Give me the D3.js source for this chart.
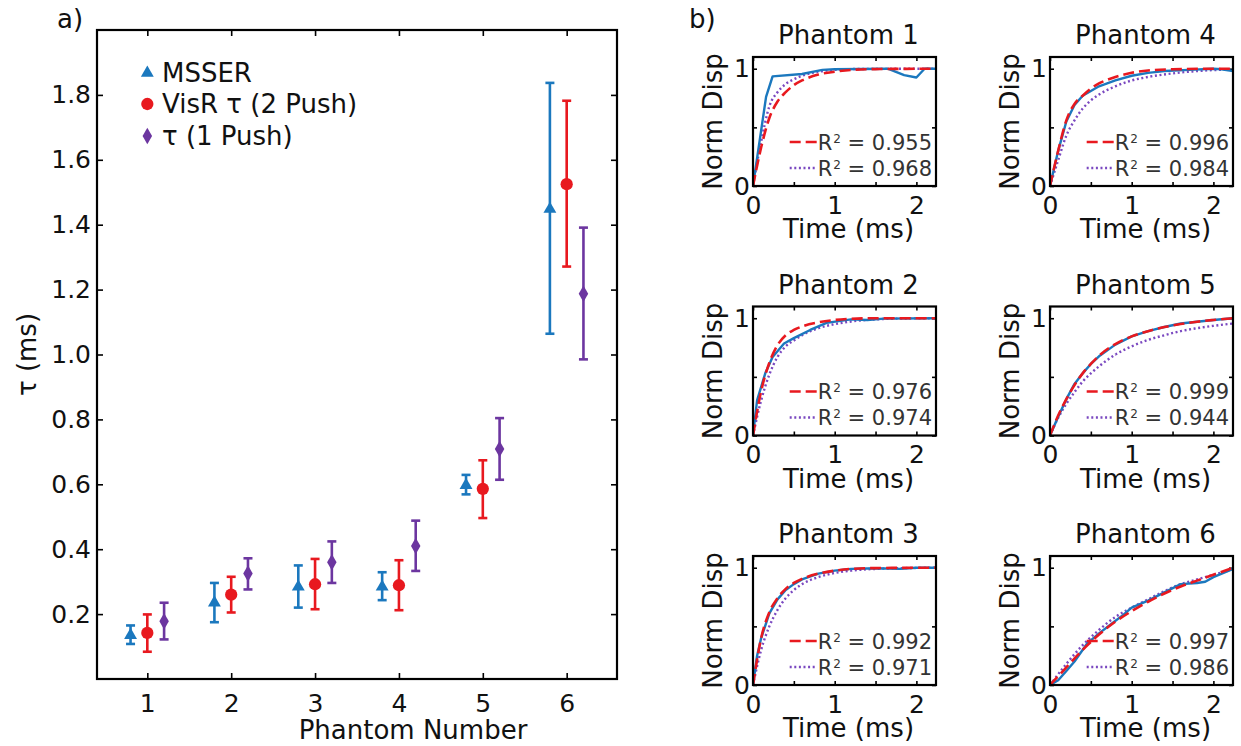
<!DOCTYPE html>
<html>
<head>
<meta charset="utf-8">
<script src="https://cdn.jsdelivr.net/npm/d3@7"></script>
<style>
  html, body { margin: 0; padding: 0; background: #fff; }
  svg text { font-family: "DejaVu Sans", Verdana, sans-serif; }
</style>
</head>
<body>
<svg id="chart" width="1241" height="746"></svg>
<script>
// ---------------- DATA: panel a ----------------
const phantomNumbers = [1, 2, 3, 4, 5, 6];
const xTickValues = [1, 2, 3, 4, 5, 6];
const yTickValues = [0.2, 0.4, 0.6, 0.8, 1.0, 1.2, 1.4, 1.6, 1.8];

const msserMean = [0.135, 0.235, 0.284, 0.284, 0.597, 1.448];
const msserLow  = [0.108, 0.175, 0.220, 0.243, 0.569, 1.064];
const msserHigh = [0.165, 0.296, 0.350, 0.329, 0.629, 1.837];

const visrMean = [0.142, 0.260, 0.292, 0.289, 0.586, 1.525];
const visrLow  = [0.084, 0.205, 0.215, 0.212, 0.496, 1.271];
const visrHigh = [0.199, 0.315, 0.370, 0.366, 0.674, 1.782];

const onePushMean = [0.178, 0.325, 0.360, 0.410, 0.709, 1.187];
const onePushLow  = [0.122, 0.276, 0.296, 0.333, 0.614, 0.985];
const onePushHigh = [0.235, 0.372, 0.424, 0.488, 0.804, 1.391];

const seriesNames = ["MSSER", "VisR \u03c4 (2 Push)", "\u03c4 (1 Push)"];

// ---------------- DATA: panel b ----------------
const timeTicks = [0, 0.5, 1, 1.5, 2];
const dispTicks = [0, 0.5, 1];
const phantomTitles = ["Phantom 1", "Phantom 2", "Phantom 3", "Phantom 4", "Phantom 5", "Phantom 6"];
const visrR2 =    ["0.955", "0.976", "0.992", "0.996", "0.999", "0.997"];
const onePushR2 = ["0.968", "0.974", "0.971", "0.984", "0.944", "0.986"];

// [time (ms), normalized displacement]
const p1Measured = [[0,0],[0.08,0.38],[0.16,0.76],[0.24,0.935],[0.6,0.955],[0.85,0.99],[1.0,0.995],[1.65,1.0],[1.85,0.945],[2.0,0.925],[2.1,1.0],[2.24,1.0]];
const p1VisR     = [[0,0],[0.1,0.33],[0.2,0.58],[0.3,0.72],[0.4,0.8],[0.5,0.86],[0.6,0.9],[0.8,0.95],[1.0,0.975],[1.2,0.99],[1.5,0.997],[2.24,1.0]];
const p1OnePush  = [[0,0],[0.1,0.38],[0.2,0.68],[0.3,0.8],[0.4,0.87],[0.5,0.91],[0.6,0.94],[0.8,0.975],[1.0,0.99],[1.3,0.998],[2.24,1.0]];

const p2Measured = [[0,0],[0.05,0.3],[0.15,0.53],[0.24,0.67],[0.38,0.785],[0.5,0.83],[0.7,0.9],[0.9,0.96],[1.2,0.99],[1.4,0.985],[1.6,0.997],[2.24,1.0]];
const p2VisR     = [[0,0],[0.1,0.38],[0.2,0.62],[0.3,0.77],[0.4,0.855],[0.5,0.9],[0.6,0.93],[0.8,0.965],[1.0,0.985],[1.2,0.995],[1.5,1.0],[2.24,1.0]];
const p2OnePush  = [[0,0],[0.1,0.3],[0.2,0.52],[0.3,0.67],[0.4,0.76],[0.5,0.81],[0.6,0.855],[0.8,0.915],[1.0,0.95],[1.2,0.972],[1.5,0.99],[1.8,0.997],[2.24,1.0]];

const p3Measured = [[0,0],[0.05,0.25],[0.1,0.4],[0.2,0.61],[0.3,0.73],[0.4,0.81],[0.5,0.86],[0.6,0.9],[0.8,0.95],[1.0,0.975],[1.2,0.99],[1.5,0.995],[1.8,0.99],[2.0,1.0],[2.24,1.0]];
const p3VisR     = [[0,0],[0.1,0.4],[0.2,0.62],[0.3,0.74],[0.4,0.82],[0.5,0.87],[0.6,0.905],[0.8,0.95],[1.0,0.975],[1.2,0.99],[1.5,0.997],[2.24,1.0]];
const p3OnePush  = [[0,0],[0.1,0.3],[0.2,0.5],[0.3,0.64],[0.4,0.74],[0.5,0.81],[0.6,0.86],[0.8,0.92],[1.0,0.955],[1.2,0.975],[1.5,0.99],[1.8,0.996],[2.24,1.0]];

const p4Measured = [[0,0],[0.1,0.3],[0.2,0.55],[0.3,0.69],[0.4,0.77],[0.5,0.81],[0.6,0.85],[0.7,0.875],[0.8,0.9],[1.0,0.94],[1.2,0.965],[1.4,0.98],[1.7,0.99],[2.0,1.0],[2.1,0.995],[2.24,0.98]];
const p4VisR     = [[0,0],[0.1,0.3],[0.2,0.56],[0.3,0.7],[0.4,0.77],[0.5,0.83],[0.6,0.875],[0.7,0.905],[0.8,0.93],[1.0,0.965],[1.2,0.985],[1.5,0.995],[2.0,1.0],[2.24,1.0]];
const p4OnePush  = [[0,0],[0.1,0.22],[0.2,0.43],[0.3,0.56],[0.4,0.66],[0.5,0.73],[0.6,0.78],[0.8,0.85],[1.0,0.9],[1.2,0.93],[1.5,0.96],[1.8,0.98],[2.24,0.995]];

const p5Measured = [[0,0],[0.1,0.16],[0.2,0.31],[0.3,0.44],[0.4,0.53],[0.5,0.61],[0.6,0.675],[0.8,0.775],[1.0,0.845],[1.2,0.89],[1.4,0.925],[1.6,0.955],[1.8,0.97],[2.0,0.985],[2.24,1.0]];
const p5VisR     = [[0,0],[0.1,0.17],[0.2,0.31],[0.3,0.43],[0.4,0.53],[0.5,0.61],[0.6,0.68],[0.8,0.78],[1.0,0.845],[1.2,0.89],[1.4,0.925],[1.6,0.95],[1.8,0.97],[2.0,0.985],[2.24,1.0]];
const p5OnePush  = [[0,0],[0.1,0.15],[0.2,0.27],[0.3,0.37],[0.4,0.46],[0.5,0.53],[0.6,0.59],[0.8,0.69],[1.0,0.76],[1.2,0.815],[1.4,0.855],[1.6,0.89],[1.8,0.915],[2.0,0.935],[2.24,0.955]];

const p6Measured = [[0,0],[0.1,0.04],[0.2,0.12],[0.3,0.2],[0.45,0.35],[0.6,0.44],[0.75,0.52],[0.9,0.6],[1.0,0.66],[1.2,0.72],[1.4,0.79],[1.6,0.86],[1.8,0.87],[1.9,0.88],[2.0,0.92],[2.24,0.99]];
const p6VisR     = [[0,0],[0.2,0.15],[0.4,0.3],[0.6,0.43],[0.8,0.54],[1.0,0.63],[1.2,0.71],[1.4,0.78],[1.6,0.84],[1.8,0.89],[2.0,0.94],[2.24,1.0]];
const p6OnePush  = [[0,0],[0.2,0.18],[0.4,0.34],[0.6,0.47],[0.8,0.58],[1.0,0.66],[1.2,0.73],[1.4,0.8],[1.6,0.86],[1.8,0.9],[2.0,0.94],[2.24,0.985]];

const measuredSets = [p1Measured, p2Measured, p3Measured, p4Measured, p5Measured, p6Measured];
const visrSets = [p1VisR, p2VisR, p3VisR, p4VisR, p5VisR, p6VisR];
const onePushSets = [p1OnePush, p2OnePush, p3OnePush, p4OnePush, p5OnePush, p6OnePush];

// ---------------- STYLE ----------------
const BLUE = "#1b78be", RED = "#e8191f", PURPLE = "#6c36a0", PURPLE_FIT = "#7a48c0";
const TICKFONT = 25, LABELFONT = 26;

const svg = d3.select("#chart");

// ================= PANEL a =================
const L = {left: 97, right: 617, top: 30, bottom: 679};
const xL = d3.scaleLinear().domain([0.4, 6.6]).range([L.left, L.right]);
const yL = d3.scaleLinear().domain([0, 2]).range([L.bottom, L.top]);

const gA = svg.append("g");

function styleAxis(g) {
  g.select(".domain").remove();
  g.selectAll(".tick line").attr("stroke", "#000").attr("stroke-width", 1.6);
  g.selectAll(".tick text").attr("fill", "#111").style("font-size", TICKFONT + "px")
    .style("font-family", '"DejaVu Sans", Verdana, sans-serif');
}

gA.append("g").attr("transform", `translate(0,${L.bottom})`)
  .call(d3.axisBottom(xL).tickValues(xTickValues).tickSizeInner(-6).tickSizeOuter(0).tickPadding(15).tickFormat(d3.format("d")))
  .call(styleAxis);
gA.append("g").attr("transform", `translate(0,${L.top})`)
  .call(d3.axisTop(xL).tickValues(xTickValues).tickSizeInner(-6).tickSizeOuter(0).tickFormat(""))
  .call(styleAxis);
gA.append("g").attr("transform", `translate(${L.left},0)`)
  .call(d3.axisLeft(yL).tickValues(yTickValues).tickSizeInner(-6).tickSizeOuter(0).tickPadding(6).tickFormat(d3.format(".1f")))
  .call(styleAxis);
gA.append("g").attr("transform", `translate(${L.right},0)`)
  .call(d3.axisRight(yL).tickValues(yTickValues).tickSizeInner(-6).tickSizeOuter(0).tickFormat(""))
  .call(styleAxis);

gA.append("rect").attr("x", L.left).attr("y", L.top)
  .attr("width", L.right - L.left).attr("height", L.bottom - L.top)
  .attr("fill", "none").attr("stroke", "#000").attr("stroke-width", 2.2);

const seriesA = [
  {name: seriesNames[0], mean: msserMean, low: msserLow, high: msserHigh, color: BLUE, offset: -0.2, symbol: d3.symbolTriangle, size: 72},
  {name: seriesNames[1], mean: visrMean, low: visrLow, high: visrHigh, color: RED, offset: 0, symbol: d3.symbolCircle, size: 118},
  {name: seriesNames[2], mean: onePushMean, low: onePushLow, high: onePushHigh, color: PURPLE, offset: 0.2, symbol: d3.symbolDiamond, size: 78}
];

seriesA.forEach(s => {
  const g = gA.append("g");
  const pts = phantomNumbers.map((p, i) => ({x: p + s.offset, m: s.mean[i], lo: s.low[i], hi: s.high[i]}));
  g.selectAll("line.bar").data(pts).join("line")
    .attr("x1", d => xL(d.x)).attr("x2", d => xL(d.x))
    .attr("y1", d => yL(d.lo)).attr("y2", d => yL(d.hi))
    .attr("stroke", s.color).attr("stroke-width", 2.6);
  ["lo", "hi"].forEach(k => {
    g.selectAll("line.cap" + k).data(pts).join("line")
      .attr("x1", d => xL(d.x) - 4.5).attr("x2", d => xL(d.x) + 4.5)
      .attr("y1", d => yL(d[k])).attr("y2", d => yL(d[k]))
      .attr("stroke", s.color).attr("stroke-width", 2.6);
  });
  g.selectAll("path.mk").data(pts).join("path")
    .attr("transform", d => `translate(${xL(d.x)},${yL(d.m)})`)
    .attr("d", d3.symbol().type(s.symbol).size(s.size))
    .attr("fill", s.color);
});

// legend
const legendRows = [82, 113, 145];
seriesA.forEach((s, i) => {
  const cy = legendRows[i] - 9;
  gA.append("path").attr("transform", `translate(${xL(1)},${cy})`)
    .attr("d", d3.symbol().type(s.symbol).size(s.size)).attr("fill", s.color);
  gA.append("text").attr("x", 162).attr("y", legendRows[i])
    .attr("fill", "#111").style("font-size", LABELFONT + "px").text(s.name);
});

gA.append("text").attr("transform", `translate(36,${(L.top + L.bottom) / 2}) rotate(-90)`)
  .attr("text-anchor", "middle").attr("fill", "#111").style("font-size", LABELFONT + "px").text("\u03c4 (ms)");
gA.append("text").attr("x", 413).attr("y", 739).attr("text-anchor", "middle")
  .attr("fill", "#111").style("font-size", LABELFONT + "px").text("Phantom Number");
gA.append("text").attr("x", 57).attr("y", 28).attr("fill", "#111").style("font-size", LABELFONT + "px").text("a)");

// ================= PANEL b =================
svg.append("text").attr("x", 689).attr("y", 28).attr("fill", "#111").style("font-size", LABELFONT + "px").text("b)");

const colLefts = [753, 1050];
const rowTops = [57, 306.5, 556];
const boxW = 183, boxH = 129;

const defs = svg.append("defs");

for (let k = 0; k < 6; k++) {
  const col = Math.floor(k / 3), row = k % 3;
  const x0 = colLefts[col], y0 = rowTops[row];
  const xs = d3.scaleLinear().domain([0, 2.24]).range([x0, x0 + boxW]);
  const ys = d3.scaleLinear().domain([0, 1.1]).range([y0 + boxH, y0]);
  const g = svg.append("g");

  defs.append("clipPath").attr("id", "clip" + k).append("rect")
    .attr("x", x0).attr("y", y0).attr("width", boxW).attr("height", boxH);

  g.append("g").attr("transform", `translate(0,${y0 + boxH})`)
    .call(d3.axisBottom(xs).tickValues(timeTicks).tickSizeInner(-4).tickSizeOuter(0).tickPadding(10)
      .tickFormat(d => Number.isInteger(d) ? d : ""))
    .call(styleAxis);
  g.append("g").attr("transform", `translate(0,${y0})`)
    .call(d3.axisTop(xs).tickValues(timeTicks).tickSizeInner(-4).tickSizeOuter(0).tickFormat(""))
    .call(styleAxis);
  g.append("g").attr("transform", `translate(${x0},0)`)
    .call(d3.axisLeft(ys).tickValues(dispTicks).tickSizeInner(-4).tickSizeOuter(0).tickPadding(3)
      .tickFormat(d => Number.isInteger(d) ? d : ""))
    .call(styleAxis);
  g.append("g").attr("transform", `translate(${x0 + boxW},0)`)
    .call(d3.axisRight(ys).tickValues(dispTicks).tickSizeInner(-4).tickSizeOuter(0).tickFormat(""))
    .call(styleAxis);

  const line = d3.line().x(d => xs(d[0])).y(d => ys(d[1]));
  const smooth = d3.line().x(d => xs(d[0])).y(d => ys(d[1])).curve(d3.curveMonotoneX);
  const cg = g.append("g").attr("clip-path", `url(#clip${k})`);
  cg.append("path").attr("d", smooth(onePushSets[k])).attr("fill", "none")
    .attr("stroke", PURPLE_FIT).attr("stroke-width", 2.4).attr("stroke-dasharray", "2,2.6");
  cg.append("path").attr("d", line(measuredSets[k])).attr("fill", "none")
    .attr("stroke", BLUE).attr("stroke-width", 2.4).attr("stroke-linejoin", "round");
  cg.append("path").attr("d", smooth(visrSets[k])).attr("fill", "none")
    .attr("stroke", RED).attr("stroke-width", 2.6).attr("stroke-dasharray", "11,5");

  g.append("rect").attr("x", x0).attr("y", y0).attr("width", boxW).attr("height", boxH)
    .attr("fill", "none").attr("stroke", "#000").attr("stroke-width", 2.2);

  // legend
  const legVals = [visrR2[k], onePushR2[k]];
  const legY = [y0 + 85, y0 + 111];
  legVals.forEach((v, i) => {
    const t = g.append("text").attr("x", x0 + boxW - 4).attr("y", legY[i] + 7.5)
      .attr("text-anchor", "end").attr("fill", "#333").style("font-size", "21px");
    t.append("tspan").text("R");
    t.append("tspan").attr("dy", -7).attr("dx", 1).style("font-size", "12px").text("2");
    t.append("tspan").attr("dy", 7).text(" = " + v);
    const tw = t.node().getComputedTextLength();
    const xStart = x0 + boxW - 4 - tw;
    g.append("line").attr("x1", xStart - 29).attr("x2", xStart - 2)
      .attr("y1", legY[i]).attr("y2", legY[i])
      .attr("stroke", i === 0 ? RED : PURPLE_FIT).attr("stroke-width", i === 0 ? 2.6 : 2.4)
      .attr("stroke-dasharray", i === 0 ? "11,5" : "2,2.6");
  });

  g.append("text").attr("x", x0 + boxW / 2 + 4).attr("y", y0 - 13).attr("text-anchor", "middle")
    .attr("fill", "#111").style("font-size", LABELFONT + "px").text(phantomTitles[k]);
  g.append("text").attr("transform", `translate(${x0 - 31},${y0 + boxH / 2}) rotate(-90)`)
    .attr("text-anchor", "middle").attr("fill", "#111").style("font-size", LABELFONT + "px").text("Norm Disp");
  g.append("text").attr("x", x0 + boxW / 2 + 4).attr("y", y0 + boxH + 52).attr("text-anchor", "middle")
    .attr("fill", "#111").style("font-size", LABELFONT + "px").text("Time (ms)");
}
</script>
</body>
</html>
